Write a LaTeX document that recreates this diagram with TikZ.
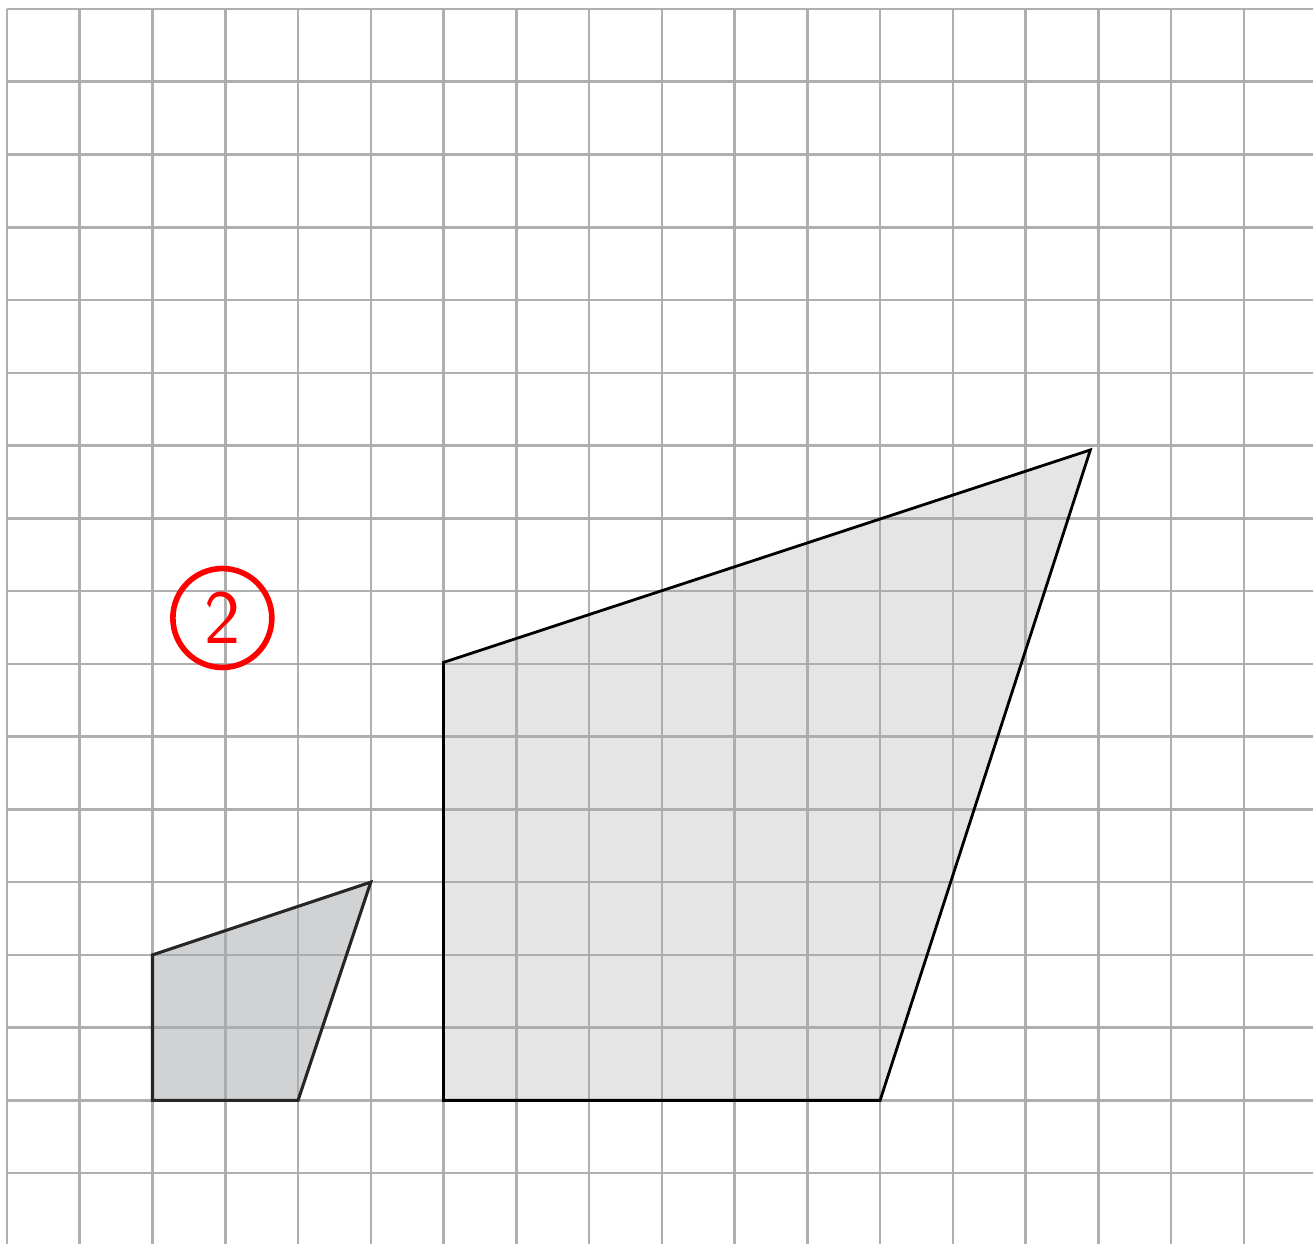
\documentclass[tikz,border=0pt]{standalone}
\definecolor{gridgray}{HTML}{AAABAD}
\definecolor{smallfill}{HTML}{D1D2D4}
\definecolor{bigfill}{HTML}{E5E5E5}
\begin{document}
\begin{tikzpicture}[line join=miter]
			\useasboundingbox (-0.096,-0.962) rectangle (17.95,16.124);
			\fill[smallfill] (2,3)--(5,4)--(4,1)--(2,1)--cycle;
			\fill[bigfill] (6,7.02)--(14.89,9.94)--(12,1)--(6,1)--cycle;
			\foreach \i in {0,...,17} \draw[gridgray,line width=1pt,opacity=0.95] (\i,16)--(\i,-1);
			\foreach \j in {0,...,16} \draw[gridgray,line width=1pt,opacity=0.95] (0,\j)--(18,\j);
			\draw[line width=1.2pt,color=black!85] (2,3)--(5,4)--(4,1)--(2,1)--cycle;
			\draw[line width=1.1pt] (6,7.02)--(14.89,9.94)--(12,1)--(6,1)--cycle;
			%\draw[dashed] (6,7)--(15,10);
			\node[draw=red,circle,line width=2.2pt,text=red,minimum size=1.36cm,inner sep=0pt,font=\fontsize{30}{30}\selectfont\sffamily] (num) at (2.96,7.63) {2};
		\end{tikzpicture}
\end{document}
